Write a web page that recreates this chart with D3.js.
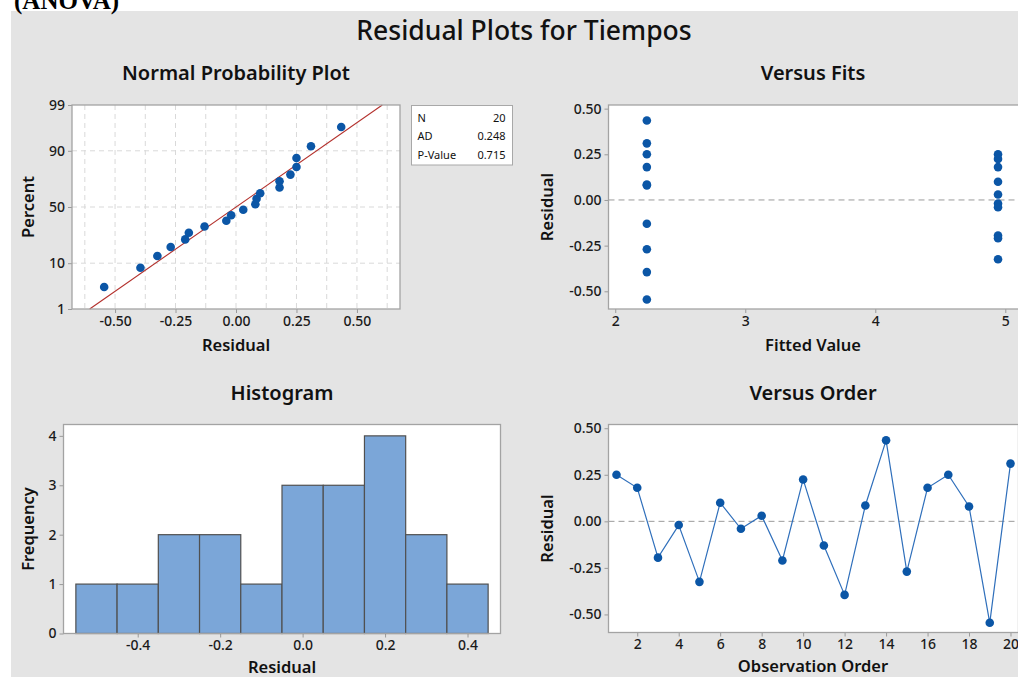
<!DOCTYPE html>
<html>
<head>
<meta charset="utf-8">
<script src="https://cdn.jsdelivr.net/npm/d3@7"></script>
<style>
  body { margin: 0; background: #fff; }
  svg { display: block; font-family: "Noto Sans", "Open Sans", sans-serif; }
</style>
</head>
<body>
<svg id="chart" width="1018" height="677"></svg>
<script>
// residuals in observation order
const observation = [1, 2, 3, 4, 5, 6, 7, 8, 9, 10, 11, 12, 13, 14, 15, 16, 17, 18, 19, 20]
const residuals = [0.25, 0.18, -0.195, -0.02, -0.325, 0.10, -0.04, 0.03, -0.21, 0.225,
  -0.13, -0.395, 0.085, 0.435, -0.27, 0.18, 0.25, 0.08, -0.545, 0.31]
const fitted = [4.944, 4.944, 4.944, 4.944, 4.944, 4.944, 4.944, 4.944, 4.944, 4.944,
  2.243, 2.243, 2.243, 2.243, 2.243, 2.243, 2.243, 2.243, 2.243, 2.243]

// normal probability plot: percent for each sorted residual
const normPercent = [3.4, 8.3, 13.2, 18.1, 23.0, 27.9, 32.8, 37.7, 42.6, 47.5,
  52.5, 57.4, 62.3, 67.2, 72.1, 77.0, 81.9, 86.8, 91.7, 96.6]
const fitMean = 0
const fitSd = 0.26
const percentTicks = [1, 10, 50, 90, 99]
const normStats = [["N", "20"], ["AD", "0.248"], ["P-Value", "0.715"]]

// histogram
const binStart = [-0.55, -0.45, -0.35, -0.25, -0.15, -0.05, 0.05, 0.15, 0.25, 0.35]
const binEnd = [-0.45, -0.35, -0.25, -0.15, -0.05, 0.05, 0.15, 0.25, 0.35, 0.45]
const binCount = [1, 1, 2, 2, 1, 3, 3, 4, 2, 1]

const dotColor = "#0b56a6"
const svg = d3.select("#chart")
const hyphen = f => v => f(v).replace("\u2212", "-")

// inverse normal cdf (Acklam)
function probit(p) {
  const a = [-39.69683028665376, 220.9460984245205, -275.9285104469687, 138.3577518672690, -30.66479806614716, 2.506628277459239]
  const b = [-54.47609879822406, 161.5858368580409, -155.6989798598866, 66.80131188771972, -13.28068155288572]
  const c = [-0.007784894002430293, -0.3223964580411365, -2.400758277161838, -2.549732539343734, 4.374664141464968, 2.938163982698783]
  const d = [0.007784695709041462, 0.3224671290700398, 2.445134137142996, 3.754408661907416]
  const pl = 0.02425
  if (p < pl) {
    const q = Math.sqrt(-2 * Math.log(p))
    return (((((c[0] * q + c[1]) * q + c[2]) * q + c[3]) * q + c[4]) * q + c[5]) / ((((d[0] * q + d[1]) * q + d[2]) * q + d[3]) * q + 1)
  }
  if (p > 1 - pl) {
    const q = Math.sqrt(-2 * Math.log(1 - p))
    return -(((((c[0] * q + c[1]) * q + c[2]) * q + c[3]) * q + c[4]) * q + c[5]) / ((((d[0] * q + d[1]) * q + d[2]) * q + d[3]) * q + 1)
  }
  const q = p - 0.5, r = q * q
  return (((((a[0] * r + a[1]) * r + a[2]) * r + a[3]) * r + a[4]) * r + a[5]) * q / (((((b[0] * r + b[1]) * r + b[2]) * r + b[3]) * r + b[4]) * r + 1)
}

// background
svg.append("rect").attr("x", 11).attr("y", 11).attr("width", 1018).attr("height", 677).attr("fill", "#e4e4e4")

svg.append("text")
  .attr("x", 14).attr("y", 9)
  .attr("font-family", "'Liberation Serif', 'Times New Roman', serif")
  .attr("font-weight", "bold").attr("font-size", 25)
  .text("(ANOVA)")

svg.append("text")
  .attr("x", 524).attr("y", 40)
  .attr("text-anchor", "middle").attr("font-size", 26.5).attr("font-weight", 500).attr("fill", "#111")
  .text("Residual Plots for Tiempos")

const clip = svg.append("defs").append("clipPath").attr("id", "page")
clip.append("rect").attr("width", 1018).attr("height", 677)

// builds one panel frame with axes
function panel(opt) {
  const g = svg.append("g").attr("clip-path", "url(#page)")
  const [x0, x1] = opt.x.range()
  const [y0, y1] = opt.y.range()

  g.append("rect")
    .attr("x", x0).attr("y", y1)
    .attr("width", x1 - x0).attr("height", y0 - y1)
    .attr("fill", "#fff")

  const xAxis = g.append("g")
    .attr("transform", `translate(0,${y0})`)
    .call(d3.axisBottom(opt.x).tickValues(opt.xTicks).tickFormat(opt.xFormat).tickSize(4).tickPadding(3))
  const yAxis = g.append("g")
    .attr("transform", `translate(${x0},0)`)
    .call(d3.axisLeft(opt.yPos || opt.y).tickValues(opt.yTicks).tickFormat(opt.yFormat).tickSize(4).tickPadding(3))

  for (const ax of [xAxis, yAxis]) {
    ax.select(".domain").remove()
    ax.selectAll(".tick line").attr("stroke", "#9a9a9a")
    ax.selectAll(".tick text").attr("font-size", 14).attr("fill", "#1a1a1a").attr("font-weight", 500)
      .attr("font-family", "'Noto Sans', 'Open Sans', sans-serif")
  }

  g.append("text")
    .attr("x", opt.titleX).attr("y", y1 - 25)
    .attr("text-anchor", "middle").attr("font-size", 20).attr("font-weight", 600).attr("fill", "#111")
    .text(opt.title)

  g.append("text")
    .attr("x", opt.titleX).attr("y", y0 + opt.xLabelDy)
    .attr("text-anchor", "middle").attr("font-size", 16.5).attr("font-weight", 600).attr("fill", "#111")
    .text(opt.xLabel)

  g.append("text")
    .attr("transform", `translate(${opt.yLabelX},${(y0 + y1) / 2}) rotate(-90)`)
    .attr("text-anchor", "middle").attr("font-size", 16.5).attr("font-weight", 600).attr("fill", "#111")
    .text(opt.yLabel)

  const plot = g.append("g")
  const frame = () => g.append("rect")
    .attr("x", x0).attr("y", y1)
    .attr("width", x1 - x0).attr("height", y0 - y1)
    .attr("fill", "none").attr("stroke", "#a3a3a3").attr("stroke-width", 1.3)
  return { plot, frame }
}

// ---- Normal Probability Plot ----
{
  const x = d3.scaleLinear().domain([-0.678, 0.678]).range([72, 400])
  const yz = d3.scaleLinear().domain([probit(0.01), probit(0.99)]).range([309, 105])
  const yP = p => yz(probit(p / 100))
  const yPos = v => yP(v)
  yPos.range = () => [309, 105]
  yPos.copy = () => yPos
  yPos.domain = () => [1, 99]
  const p = panel({
    x, y: yz, yPos,
    xTicks: [-0.5, -0.25, 0, 0.25, 0.5], xFormat: hyphen(d3.format(".2f")),
    yTicks: percentTicks, yFormat: d3.format("d"),
    title: "Normal Probability Plot", titleX: 236,
    xLabel: "Residual", xLabelDy: 42, yLabel: "Percent", yLabelX: 34
  })
  const grid = p.plot.append("g").attr("stroke", "#d9d9d9").attr("stroke-dasharray", "5,4")
  grid.selectAll("line.v")
    .data(d3.range(-0.625, 0.626, 0.125))
    .join("line")
    .attr("x1", d => x(d)).attr("x2", d => x(d))
    .attr("y1", 105).attr("y2", 309)
  grid.selectAll("line.h")
    .data([10, 50, 90])
    .join("line")
    .attr("x1", 72).attr("x2", 400)
    .attr("y1", d => yP(d)).attr("y2", d => yP(d))

  const zLo = probit(0.01), zHi = probit(0.99)
  p.plot.append("line")
    .attr("x1", x(fitMean + fitSd * zLo)).attr("y1", yz(zLo))
    .attr("x2", x(fitMean + fitSd * zHi)).attr("y2", yz(zHi))
    .attr("stroke", "#b3302c").attr("stroke-width", 1.1)

  const sorted = d3.sort(residuals)
  p.plot.selectAll("circle")
    .data(sorted)
    .join("circle")
    .attr("cx", d => x(d))
    .attr("cy", (d, i) => yP(normPercent[i]))
    .attr("r", 4.3)
    .attr("fill", dotColor)
  p.frame()

  const box = svg.append("g").attr("transform", "translate(411.5,105.5)")
  box.append("rect").attr("width", 101).attr("height", 59.5)
    .attr("fill", "#fff").attr("stroke", "#a8a8a8")
  box.selectAll("text.k")
    .data(normStats)
    .join("text")
    .attr("x", 6).attr("y", (d, i) => 16 + i * 18.5)
    .attr("font-size", 11).attr("fill", "#111")
    .text(d => d[0])
  box.selectAll("text.v")
    .data(normStats)
    .join("text")
    .attr("x", 94).attr("y", (d, i) => 16 + i * 18.5)
    .attr("text-anchor", "end").attr("font-size", 11).attr("fill", "#111")
    .text(d => d[1])
}

// ---- Versus Fits ----
{
  const x = d3.scaleLinear().domain([1.948, 5.24]).range([608.5, 1036.5])
  const y = d3.scaleLinear().domain([-0.597, 0.52]).range([309, 105])
  const p = panel({
    x, y,
    xTicks: [2, 3, 4, 5], xFormat: d3.format("d"),
    yTicks: [-0.5, -0.25, 0, 0.25, 0.5], yFormat: hyphen(d3.format(".2f")),
    title: "Versus Fits", titleX: 813,
    xLabel: "Fitted Value", xLabelDy: 42, yLabel: "Residual", yLabelX: 553
  })
  p.plot.append("line")
    .attr("x1", 608.5).attr("x2", 1036.5)
    .attr("y1", y(0)).attr("y2", y(0))
    .attr("stroke", "#9a9a9a").attr("stroke-dasharray", "6,4")
  p.plot.selectAll("circle")
    .data(residuals)
    .join("circle")
    .attr("cx", (d, i) => x(fitted[i]))
    .attr("cy", d => y(d))
    .attr("r", 4.3)
    .attr("fill", dotColor)
  p.frame()
}

// ---- Histogram ----
{
  const x = d3.scaleLinear().domain([-0.58, 0.48]).range([63.5, 500.5])
  const y = d3.scaleLinear().domain([0, 4.23]).range([633.5, 424.5])
  const p = panel({
    x, y,
    xTicks: [-0.4, -0.2, 0, 0.2, 0.4], xFormat: hyphen(d3.format(".1f")),
    yTicks: [0, 1, 2, 3, 4], yFormat: d3.format("d"),
    title: "Histogram", titleX: 282,
    xLabel: "Residual", xLabelDy: 39, yLabel: "Frequency", yLabelX: 34
  })
  p.plot.selectAll("rect")
    .data(binCount)
    .join("rect")
    .attr("x", (d, i) => x(binStart[i]))
    .attr("width", (d, i) => x(binEnd[i]) - x(binStart[i]))
    .attr("y", d => y(d))
    .attr("height", d => y(0) - y(d))
    .attr("fill", "#7ba6d8")
    .attr("stroke", "#505050")
    .attr("stroke-width", 1.2)
  p.frame()
}

// ---- Versus Order ----
{
  const x = d3.scaleLinear().domain([0.614, 20.386]).range([608.5, 1018.5])
  const y = d3.scaleLinear().domain([-0.597, 0.52]).range([632.5, 424.5])
  const p = panel({
    x, y,
    xTicks: [2, 4, 6, 8, 10, 12, 14, 16, 18, 20], xFormat: d3.format("d"),
    yTicks: [-0.5, -0.25, 0, 0.25, 0.5], yFormat: hyphen(d3.format(".2f")),
    title: "Versus Order", titleX: 813,
    xLabel: "Observation Order", xLabelDy: 39, yLabel: "Residual", yLabelX: 553
  })
  p.plot.append("line")
    .attr("x1", 608.5).attr("x2", 1036.5)
    .attr("y1", y(0)).attr("y2", y(0))
    .attr("stroke", "#9a9a9a").attr("stroke-dasharray", "6,4")
  const line = d3.line()
    .x((d, i) => x(observation[i]))
    .y(d => y(d))
  p.plot.append("path")
    .attr("d", line(residuals))
    .attr("fill", "none")
    .attr("stroke", "#2f6fbb")
    .attr("stroke-width", 1.2)
  p.plot.selectAll("circle")
    .data(residuals)
    .join("circle")
    .attr("cx", (d, i) => x(observation[i]))
    .attr("cy", d => y(d))
    .attr("r", 4.3)
    .attr("fill", dotColor)
  p.frame()
}
</script>
</body>
</html>
